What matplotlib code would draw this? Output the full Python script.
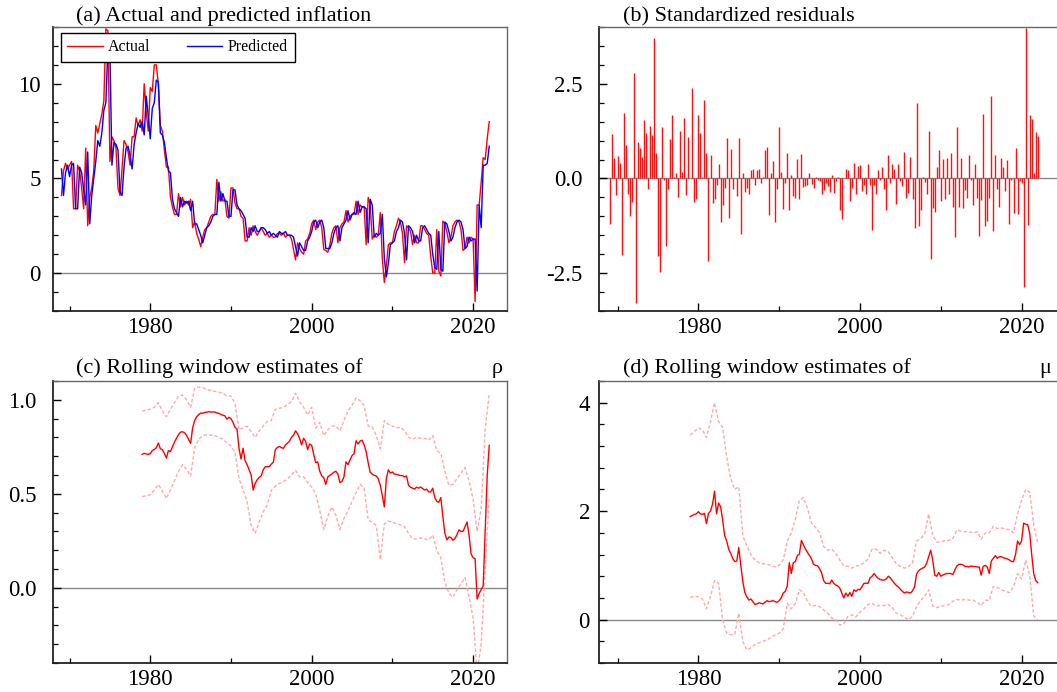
import numpy as np
import matplotlib
matplotlib.use("Agg")
import matplotlib.pyplot as plt
from matplotlib.ticker import MultipleLocator
from matplotlib.lines import Line2D

plt.rcParams['font.family'] = ['Liberation Serif', 'DejaVu Serif']
plt.rcParams['axes.unicode_minus'] = False

# quarterly inflation, 1969Q1 - 2022Q1
actual = [
    4.1, 5.4, 5.8, 5.5, 5.7, 5.9, 3.4, 3.4, 5.7, 5.4, 4.5, 3.4,
    6.6, 2.5, 4.0, 4.5, 5.4, 7.8, 7.4, 7.9, 8.4, 9.1, 12.9, 12.8,
    5.9, 7.2, 7.0, 6.6, 4.5, 4.1, 5.5, 7.0, 6.8, 6.4, 5.7, 7.2,
    7.2, 8.2, 7.8, 8.1, 7.5, 10.0, 8.5, 7.5, 9.8, 9.6, 11.0, 11.0,
    10.0, 7.8, 7.5, 6.5, 5.6, 5.6, 4.0, 3.5, 3.1, 3.1, 4.2, 3.5,
    4.0, 3.6, 3.8, 3.6, 3.9, 2.4, 2.7, 2.1, 1.8, 1.4, 1.9, 2.3,
    2.4, 2.7, 3.0, 3.1, 3.1, 4.95, 3.8, 4.3, 3.8, 3.9, 3.0, 2.9,
    4.5, 4.5, 3.7, 3.4, 3.4, 3.0, 2.9, 1.7, 1.7, 2.4, 2.0, 2.5,
    2.2, 2.0, 2.2, 2.4, 2.2, 2.0, 2.1, 1.9, 2.0, 1.9, 1.9, 2.1,
    2.1, 2.0, 2.1, 1.9, 2.0, 2.0, 1.8, 1.25, 0.7, 1.6, 1.3, 1.1,
    1.0, 1.7, 1.8, 2.1, 2.6, 2.8, 2.3, 2.7, 2.8, 2.4, 1.25, 1.2,
    1.1, 1.5, 2.1, 2.4, 2.5, 1.6, 2.4, 2.6, 2.7, 3.3, 2.7, 3.0,
    3.1, 3.1, 3.8, 3.1, 3.6, 3.5, 3.5, 1.5, 4.0, 3.6, 1.8, 2.0,
    1.9, 2.0, 3.2, 0.8, -0.5, 0.4, 1.5, 1.6, 1.6, 2.2, 2.5, 2.9,
    2.7, 2.1, 0.55, 2.5, 2.4, 2.2, 1.5, 2.0, 1.6, 1.6, 2.5, 2.5,
    2.3, 2.1, 2.0, 0.9, 0.0, 0.0, 2.3, 0.1, -0.15, 2.75, 2.6, 2.2,
    1.6, 1.9, 2.5, 2.7, 2.8, 2.7, 2.3, 1.2, 1.3, 1.9, 1.6, 1.9,
    1.8, -1.5, 3.6, 3.6, 4.8, 6.1, 6.0, 7.1, 8.0]

predicted = [
    5.5, 4.1, 5.3, 5.7, 5.1, 5.7, 5.8, 3.4, 3.4, 5.6, 5.3, 4.4,
    3.6, 6.4, 2.6, 4.1, 5.0, 5.9, 7.0, 6.7, 7.4, 8.6, 9.0, 11.9,
    11.8, 5.7, 6.9, 6.8, 6.5, 4.3, 4.1, 5.6, 6.6, 6.7, 6.2, 5.5,
    6.8, 7.4, 7.9, 7.7, 8.0, 7.3, 9.35, 8.3, 7.1, 8.7, 9.0, 10.2,
    10.1, 7.4, 7.3, 6.9, 6.1, 5.4, 5.3, 3.9, 3.4, 3.2, 3.0, 4.0,
    3.5, 3.8, 3.7, 3.8, 3.3, 3.8, 2.6, 2.6, 2.3, 2.0, 1.6, 2.0,
    2.4, 2.5, 2.7, 3.0, 3.1, 3.1, 4.8, 3.8, 4.2, 3.8, 3.8, 3.0,
    3.0, 4.4, 4.4, 3.6, 3.4, 3.3, 3.1, 2.9, 1.9, 1.9, 2.4, 2.2,
    2.5, 2.2, 2.2, 2.4, 2.4, 2.3, 2.1, 2.2, 2.0, 2.1, 2.0, 1.9,
    2.2, 2.1, 2.1, 2.2, 2.0, 2.0, 2.0, 1.9, 1.4, 0.9, 1.6, 1.4,
    1.2, 1.2, 1.7, 1.9, 2.2, 2.7, 2.8, 2.4, 2.7, 2.8, 2.4, 1.3,
    1.3, 1.3, 1.6, 2.1, 2.4, 2.5, 1.7, 2.4, 2.6, 2.8, 3.3, 2.8,
    3.1, 3.2, 3.1, 3.8, 3.2, 3.5, 3.5, 3.4, 1.6, 3.9, 3.6, 1.9,
    2.1, 2.0, 2.1, 3.1, 0.8, -0.2, 0.5, 1.5, 1.6, 1.7, 2.2, 2.4,
    2.8, 2.7, 2.1, 0.7, 2.5, 2.4, 2.2, 1.6, 2.0, 1.7, 1.7, 2.4,
    2.5, 2.3, 2.1, 2.0, 1.0, 0.3, 0.2, 2.2, 0.2, 0.1, 2.7, 2.6,
    2.2, 1.7, 1.9, 2.4, 2.7, 2.8, 2.7, 2.3, 1.3, 1.4, 1.9, 1.7,
    1.8, 1.8, -0.95, 3.6, 2.4, 5.7, 5.7, 5.8, 6.7]

residuals = [
    -1.21, 1.18, 0.54, -0.44, 0.59, 0.42, -2.02, 1.73, 0.89, -0.42,
    -0.99, -0.61, 2.78, -3.3, 0.95, 0.81, 0.58, 1.54, 1.2, -0.27,
    1.39, 1.16, 3.70, 0.67, -2.04, -2.46, 1.37, -0.04, -1.78, -0.28,
    1.04, 1.68, 0.05, 0.14, -0.49, 1.25, 0.18, 1.59, -0.44, 1.1,
    0.02, 2.39, -0.61, -0.53, 1.68, 1.19, 0.04, 2.08, 0.68, -2.18,
    0.61, -0.65, -0.53, -0.18, 0.37, -1.14, -0.71, -0.25, 1.07, -1.04,
    0.78, -0.28, 0.02, -0.47, 1.07, -1.47, 0.14, -0.35, -0.24, -0.40,
    0.23, 0.26, -0.18, 0.23, 0.24, -0.12, 0.04, 0.75, 0.84, -0.96,
    0.15, 0.46, -1.14, -0.27, 1.37, 0.18, -0.81, -0.12, 0.68, -0.84,
    0.10, -0.46, -0.51, 0.51, -0.54, 0.64, -0.23, -0.19, -0.18, 0.15,
    -0.15, -0.26, 0.04, -0.04, -0.07, -0.40, -0.30, -0.12,
    -0.20, -0.36, 0.09, -0.39, -0.07, 0.03, -0.84, -1.08, 0.01, 0.26,
    0.22, -0.60, -0.25, 0.41, -0.42, 0.32, 0.36, -0.32, -0.17, -0.40,
    0.37, -0.16, -1.36, -0.18, -0.42, 0.22, -0.04, 0.31, -0.27, -0.82,
    0.61, -0.11, 0.37, 0.26, -0.67, 0.39, -0.06, -0.19, 0.69, -0.51,
    -0.39, 0.58, -0.55, -1.30, 1.99, -1.25, -0.84, 0.04, -0.09, -0.40,
    1.25, -2.13, -0.79, -0.89, 0.31, 0.75, -0.60, 0.52, -0.53, 0.54,
    -0.42, 0.67, -0.75, -1.54, 1.36, -0.75, 0.53, -0.77, -0.31, -0.52,
    0.61, -0.04, -0.69, 0.39, -0.52, -1.51, -0.58, 1.69, -1.25, -1.12,
    -0.52, 2.19, -1.39, 0.63, -0.29, -0.75, 0.53, 0.30, -0.32, 0.50,
    -1.19, -0.05, -0.90, 0.81, -0.93, -0.07, -0.11, -2.87, 3.98, -1.23,
    1.68, 1.58, 0.14, 1.23, 1.13]

# rolling window estimates, 1979Q1 - 2022Q1 (quarterly), bands half-yearly
rho = [
    0.71, 0.715, 0.712, 0.71, 0.713, 0.73, 0.736, 0.745, 0.77, 0.74, 0.735, 0.715,
    0.69, 0.73, 0.725, 0.75, 0.775, 0.795, 0.815, 0.828, 0.83, 0.825, 0.81, 0.79,
    0.768, 0.85, 0.89, 0.91, 0.92, 0.93, 0.928, 0.933, 0.934, 0.937, 0.935, 0.935,
    0.935, 0.93, 0.928, 0.922, 0.918, 0.915, 0.897, 0.907, 0.90, 0.88, 0.853, 0.844,
    0.74, 0.685, 0.743, 0.676, 0.655, 0.628, 0.60, 0.52, 0.555, 0.575, 0.588, 0.595,
    0.628, 0.644, 0.644, 0.645, 0.658, 0.668, 0.735, 0.747, 0.752, 0.745, 0.742, 0.76,
    0.77, 0.78, 0.80, 0.812, 0.835, 0.82, 0.795, 0.76, 0.795, 0.78, 0.735, 0.765,
    0.758, 0.71, 0.665, 0.67, 0.62, 0.595, 0.585, 0.55, 0.59, 0.598, 0.605, 0.615,
    0.62, 0.605, 0.56, 0.565, 0.59, 0.67, 0.655, 0.68, 0.703, 0.713, 0.782, 0.765,
    0.78, 0.785, 0.76, 0.725, 0.665, 0.615, 0.605, 0.598, 0.595, 0.58, 0.545, 0.49,
    0.43, 0.58, 0.628, 0.61, 0.616, 0.605, 0.603, 0.600, 0.597, 0.597, 0.59, 0.595,
    0.545, 0.535, 0.53, 0.525, 0.535, 0.53, 0.536, 0.528, 0.52, 0.525, 0.51, 0.51,
    0.53, 0.48, 0.46, 0.455, 0.48, 0.38, 0.29, 0.255, 0.27, 0.268, 0.253, 0.262,
    0.283, 0.308, 0.3, 0.3, 0.325, 0.35, 0.28, 0.18, 0.16, 0.155, -0.06, -0.03,
    -0.01, 0.01, 0.3, 0.6, 0.757]
rho_hi = [
    0.94, 0.945, 0.95, 0.96, 0.985, 0.94, 0.91, 0.95, 0.985, 1.02,
    1.025, 1.0, 0.96, 1.06, 1.068, 1.065, 1.055, 1.05, 1.045, 1.04,
    1.035, 1.02, 1.02, 0.98, 0.84, 0.85, 0.86, 0.83, 0.80, 0.835,
    0.86, 0.885, 0.89, 0.95, 0.955, 0.96, 0.975, 0.99, 1.035, 0.99,
    0.96, 0.92, 0.96, 0.85, 0.88, 0.81, 0.84, 0.86, 0.86, 0.835,
    0.89, 0.94, 0.97, 1.01, 0.995, 0.97, 0.86, 0.855, 0.81, 0.74,
    0.89, 0.87, 0.86, 0.85, 0.855, 0.835, 0.8, 0.79, 0.80, 0.795,
    0.795, 0.785, 0.81, 0.73, 0.715, 0.62, 0.545, 0.55, 0.58, 0.61,
    0.64, 0.57, 0.47, 0.30, 0.42, 0.85, 1.03]
rho_lo = [
    0.485, 0.49, 0.495, 0.52, 0.55, 0.515, 0.475, 0.52, 0.57, 0.62,
    0.655, 0.63, 0.595, 0.745, 0.79, 0.81, 0.813, 0.812, 0.81, 0.80,
    0.79, 0.77, 0.755, 0.72, 0.58, 0.52, 0.46, 0.33, 0.29, 0.35,
    0.405, 0.44, 0.52, 0.54, 0.555, 0.565, 0.58, 0.60, 0.625, 0.59,
    0.59, 0.56, 0.535, 0.50, 0.41, 0.31, 0.38, 0.43, 0.385, 0.31,
    0.37, 0.41, 0.46, 0.505, 0.55, 0.53, 0.36, 0.35, 0.33, 0.15,
    0.34, 0.355, 0.35, 0.34, 0.335, 0.325, 0.29, 0.26, 0.26, 0.265,
    0.26, 0.255, 0.28, 0.2, 0.16, 0.03, -0.03, -0.05, -0.01, 0.02,
    0.055, -0.05, -0.16, -0.45, -0.3, 0.1, 0.48]

mu = [
    1.90, 1.92, 1.94, 1.95, 1.99, 1.95, 1.94, 1.96, 1.77, 1.96, 2.0, 2.13,
    2.37, 1.95, 2.15, 2.08, 1.84, 1.55, 1.45, 1.3, 1.22, 1.13, 1.07, 1.08,
    1.33, 1.0, 0.7, 0.5, 0.42, 0.36, 0.38, 0.33, 0.28, 0.29, 0.31, 0.3,
    0.29, 0.32, 0.35, 0.33, 0.34, 0.35, 0.33, 0.32, 0.35, 0.4, 0.49, 0.52,
    0.62, 1.05, 0.85, 1.05, 1.07, 1.18, 1.21, 1.46, 1.38, 1.3, 1.24, 1.18,
    1.12, 1.02, 1.0, 0.99, 0.94, 0.86, 0.72, 0.67, 0.67, 0.66, 0.73, 0.67,
    0.64, 0.62, 0.58, 0.49, 0.40, 0.49, 0.43, 0.50, 0.43, 0.55, 0.52, 0.56,
    0.55, 0.61, 0.67, 0.67, 0.67, 0.77, 0.8, 0.85, 0.8, 0.76, 0.74, 0.73,
    0.73, 0.75, 0.8, 0.77, 0.72, 0.67, 0.63, 0.6, 0.56, 0.52, 0.49, 0.51,
    0.50, 0.49, 0.53, 0.6, 0.84, 0.9, 0.93, 0.95, 0.97, 1.04, 1.16, 1.28,
    1.1, 0.82, 0.8, 0.87, 0.8, 0.82, 0.84, 0.85, 0.85, 0.85, 0.83, 0.92,
    0.99, 1.02, 1.02, 1.01, 0.98, 0.98, 0.97, 0.99, 0.98, 0.98, 0.97, 0.97,
    0.82, 0.98, 1.0, 0.97, 0.85, 1.08, 1.13, 1.18, 1.13, 1.16, 1.16, 1.14,
    1.13, 1.12, 1.10, 1.07, 1.07, 1.2, 1.45, 1.38, 1.45, 1.78, 1.76, 1.75,
    1.6, 1.2, 0.85, 0.72, 0.68]
mu_hi = [
    3.40, 3.47, 3.54, 3.50, 3.36, 3.65, 4.0, 3.65, 3.55, 3.0,
    2.6, 2.4, 2.45, 1.55, 1.35, 1.2, 1.1, 1.05, 1.03, 1.02,
    1.0, 0.97, 1.0, 1.1, 1.45, 1.6, 1.85, 2.2, 2.25, 2.05,
    1.78, 1.7, 1.6, 1.35, 1.28, 1.3, 1.22, 1.1, 0.99, 0.98,
    0.95, 0.99, 1.0, 1.05, 1.12, 1.3, 1.3, 1.22, 1.28, 1.25,
    1.14, 1.03, 0.98, 0.95, 0.98, 1.04, 1.45, 1.49, 1.58, 1.95,
    1.55, 1.43, 1.43, 1.46, 1.46, 1.5, 1.65, 1.63, 1.62, 1.62,
    1.6, 1.62, 1.48, 1.6, 1.6, 1.72, 1.68, 1.69, 1.67, 1.66,
    1.6, 1.95, 2.2, 2.4, 2.35, 1.75, 1.4]
mu_lo = [
    0.41, 0.43, 0.42, 0.38, 0.2, 0.43, 0.72, 0.67, 0.0, -0.25,
    -0.28, -0.27, 0.12, -0.4, -0.56, -0.52, -0.46, -0.43, -0.4, -0.37,
    -0.33, -0.28, -0.25, -0.17, 0.3, 0.2, 0.3, 0.55, 0.5, 0.33,
    0.25, 0.26, 0.24, 0.18, 0.12, 0.03, 0.0, -0.1, -0.07, 0.06,
    0.09, 0.05, 0.14, 0.2, 0.28, 0.3, 0.25, 0.26, 0.26, 0.28,
    0.22, 0.12, 0.09, 0.04, 0.0, 0.06, 0.24, 0.35, 0.43, 0.55,
    0.25, 0.22, 0.25, 0.26, 0.28, 0.34, 0.37, 0.36, 0.37, 0.36,
    0.36, 0.32, 0.26, 0.36, 0.35, 0.61, 0.59, 0.55, 0.52, 0.5,
    0.6, 0.85, 0.75, 1.1, 0.82, 0.07, 0.0]

t_q = 1969 + 0.25 * np.arange(len(actual))
t_r = 1969 + 0.25 * np.arange(len(residuals))
t_roll = 1979 + 0.25 * np.arange(len(rho))
t_band = 1979 + 0.5 * np.arange(len(rho_hi))
t_mu = 1979 + 0.25 * np.arange(len(mu))
t_muband = 1979 + 0.5 * np.arange(len(mu_hi))

fig = plt.figure(figsize=(10.57, 6.92), dpi=100)
W, H = 1057, 692
axA = fig.add_axes([53 / W, 1 - 311 / H, 454 / W, 284 / H])
axB = fig.add_axes([599 / W, 1 - 311 / H, 463 / W, 284 / H])
axC = fig.add_axes([53 / W, 1 - 663 / H, 454 / W, 282 / H])
axD = fig.add_axes([599 / W, 1 - 663 / H, 463 / W, 282 / H])

band_col = '#ffaaaa'


def style(ax, xlim, ylim, ymaj, ylab, ystep, ypad):
    ax.set_xlim(*xlim)
    ax.set_ylim(*ylim)
    ax.set_xticks([1980, 2000, 2020])
    ax.set_xticks([1970, 1990, 2010], minor=True)
    ax.set_yticks(ymaj)
    ax.set_yticklabels(ylab)
    ax.yaxis.set_minor_locator(MultipleLocator(ystep))
    ax.tick_params(which='both', direction='in', top=False, right=False,
                   labelsize=16.5, color='black')
    ax.tick_params(which='major', length=6, width=1)
    ax.tick_params(which='minor', length=3.3, width=0.9)
    ax.tick_params(axis='x', pad=4)
    ax.tick_params(axis='y', pad=ypad)
    for s in ['left', 'bottom']:
        ax.spines[s].set_linewidth(1.3)
        ax.spines[s].set_color('#222222')
    for s in ['top', 'right']:
        ax.spines[s].set_linewidth(1.0)
        ax.spines[s].set_color('#666666')
    ax.axhline(0, color='#888888', lw=1.0, zorder=1)


# (a)
axA.plot(t_q, actual, color='red', lw=1.0, zorder=2)
axA.plot(t_q, predicted, color='blue', lw=1.0, zorder=3)
style(axA, (1967.95, 2024.2), (-2, 13), [0, 5, 10], ['0', '5', '10'], 1, 9)
leg = axA.legend([Line2D([], [], color='red', lw=1.0), Line2D([], [], color='blue', lw=1.0)],
                 ['Actual', 'Predicted'], ncol=2, loc='upper left',
                 bbox_to_anchor=(0.0176, 0.979), borderaxespad=0, fancybox=False,
                 edgecolor='black', framealpha=1, fontsize=11.5, handlelength=2.2,
                 handletextpad=0.35, columnspacing=2.3, borderpad=0.4)
leg.get_frame().set_linewidth(1.0)
axA.text(0.0507, 1.021, '(a) Actual and predicted inflation', transform=axA.transAxes,
         fontsize=16, ha='left', va='baseline')

# (b)
axB.vlines(t_r, 0, residuals, colors='#ff1010', lw=1.0, zorder=2)
style(axB, (1967.7, 2025.0), (-3.5, 4.0), [-2.5, 0, 2.5], ['-2.5', '0.0', '2.5'], 0.5, 12)
axB.text(0.052, 1.021, '(b) Standardized residuals', transform=axB.transAxes,
         fontsize=16, ha='left', va='baseline')

# (c)
axC.plot(t_band, rho_hi, color=band_col, lw=1.0, dashes=(2.5, 1.5), zorder=2)
axC.plot(t_band, rho_lo, color=band_col, lw=1.0, dashes=(2.5, 1.5), zorder=2)
axC.plot(t_roll, rho, color='red', lw=1.0, zorder=3)
style(axC, (1967.95, 2024.2), (-0.4, 1.1), [0, 0.5, 1.0], ['0.0', '0.5', '1.0'], 0.1, 12)
axC.text(0.0507, 1.027, '(c) Rolling window estimates of', transform=axC.transAxes,
         fontsize=16, ha='left', va='baseline')
axC.text(0.978, 1.027, 'ρ', transform=axC.transAxes, fontsize=16, ha='center', va='baseline')

# (d)
axD.plot(t_muband, mu_hi, color=band_col, lw=1.0, dashes=(2.5, 1.5), zorder=2)
axD.plot(t_muband, mu_lo, color=band_col, lw=1.0, dashes=(2.5, 1.5), zorder=2)
axD.plot(t_mu, mu, color='red', lw=1.0, zorder=3)
style(axD, (1967.7, 2025.0), (-0.8, 4.4), [0, 2, 4], ['0', '2', '4'], 0.4, 6.5)
axD.text(0.051, 1.027, '(d) Rolling window estimates of', transform=axD.transAxes,
         fontsize=16, ha='left', va='baseline')
axD.text(0.963, 1.027, 'μ', transform=axD.transAxes, fontsize=16, ha='center', va='baseline')

fig.savefig('out.png', dpi=100)
